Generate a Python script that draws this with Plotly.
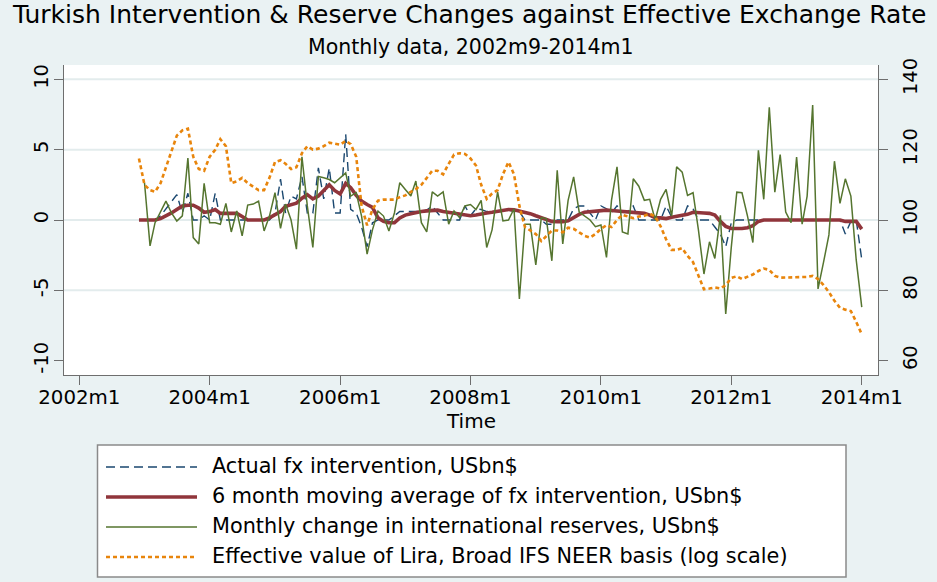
import pandas as pd
import plotly.graph_objects as go

# ---------------- data ----------------
start_main = "2002-12-01"   # first month of intervention / NEER series
start_res = "2003-01-01"    # first month of reserve-change series
end_month = "2014-01-01"

actual_fx = [0, 0, 0, 0, 0.3, 0.8, 1.3, 1.8, 0.5, 1.9,      # 2002m12..2003m9
             0, 0, 0.3, 0, 1.9, 0, 0, 0, 0, 0,               # ..2004m7
             0, 0, 0, 0, 0, 0.5, 2.9, 0.5, 1.7, 1.5,          # ..2005m5
             3.1, 0.5, 0.5, 3.7, 1.5, 3.7, 0.5, 0.5, 6.1, 0.75,  # ..2006m3
             0.5, -0.5, -1.9, -0.2, 0, 0, 0, 0.3, 0.6, 0.6,   # ..2007m1
             0.6, 0.6, 0.6, 0.7, 1.0, 0.5, 0, 0, 0, 0,        # ..2007m11
             1.0, 0.3, 0.8, 0.75, 0.6, 0.6, 0.6, 0.6, 0.7, 0.6,  # ..2008m9
             0.6, 0, 0, 0, 0, -0.3, -0.3, 0, 0, 0,            # ..2009m7
             0.8, 1.0, 1.0, 0.5, 0, 1.0, 0.8, 0.5, 1.0, 0.6,  # ..2010m5
             0.6, 1.0, 0, 0, 0, 0, 0, 1.0, 0.2, 0,            # ..2011m3
             0, 1.0, 0.8, 0, 0, 0, -0.5, -1.0, -1.9, -0.2,    # ..2012m1
             0, 0, 0, 0, 0, 0, 0, 0, 0, 0,                    # ..2012m11
             0, 0, 0, 0, 0, 0, 0, 0, 0, 0,                    # ..2013m9
             -1.0, -0.1, 0, -2.8]                             # ..2014m1

ma6_fx = [0, 0, 0, 0, 0.1, 0.28, 0.5, 0.75, 1.0, 1.05,
          1.05, 0.85, 0.55, 0.6, 0.75, 0.47, 0.47, 0.47, 0.47, 0.25,
          0, 0, 0, 0, 0.15, 0.35, 0.6, 0.97, 1.1, 1.2,
          1.55, 1.8, 1.5, 1.7, 2.1, 2.5, 2.1, 1.85, 2.6, 2.3,
          1.75, 1.35, 1.1, 0.9, 0.15, -0.1, -0.2, -0.2, 0.15, 0.35,
          0.45, 0.55, 0.6, 0.65, 0.68, 0.7, 0.6, 0.55, 0.47, 0.42,
          0.38, 0.3, 0.35, 0.45, 0.5, 0.55, 0.62, 0.7, 0.75, 0.72,
          0.64, 0.55, 0.45, 0.3, 0.15, 0.0, -0.1, -0.12, -0.12, -0.05,
          0.2, 0.4, 0.55, 0.6, 0.64, 0.68, 0.7, 0.67, 0.64, 0.64,
          0.6, 0.55, 0.5, 0.47, 0.35, 0.17, 0.15, 0.1, 0.2, 0.26,
          0.28, 0.4, 0.55, 0.55, 0.5, 0.47, 0.35, -0.1, -0.45, -0.6,
          -0.62, -0.6, -0.55, -0.4, -0.1, 0, 0, 0, 0, 0,
          0, 0, 0, 0, 0, 0, 0, 0, 0, 0,
          -0.1, -0.1, -0.1, -0.65]

reserve_change = [2.65, -1.84, -0.19, 0.64, 1.34, 0.5, -0.07, 0.3, 4.4, -1.25,   # 2003m1..m10
                  -1.7, 2.6, -0.19, -0.19, -0.3, 1.18, -0.85, 0.64, -1.13, 1.06,
                  1.13, 1.34, -0.78, 0.28, 1.94, -0.59, 1.13, 0, -2.07, 4.5,
                  1.0, -1.95, 3.1, 3.0, 2.88, 2.65, 3.0, 3.35, 1.7, 1.94,
                  0.28, -2.43, -0.7, 0.64, 0.28, -0.78, 0.5, 2.65, 2.17, 1.7,
                  2.77, -0.19, -0.85, 2.0, 1.7, 2.0, -0.3, 0.64, 0.17, 1.0,
                  1.1, 0.75, 1.4, -1.95, -0.7, 2.0, -0.07, 0, 0.8, -5.61,
                  -0.3, -0.3, -3.2, 0.17, 0.1, -2.9, 3.54, -1.7, 1.4, 3.07,
                  0.57, 0.28, 0, -0.47, -0.35, -2.66, 1.4, 3.78, -0.85, -1.0,
                  2.93, 2.4, 1.4, 1.47, 0, 1.47, 2.17, 0.28, 3.78, 3.4,
                  1.75, 1.94, -0.7, -3.84, -1.55, -2.73, 0.33, -6.68, -1.95, 1.98,
                  1.94, 0.28, -1.6, 4.95, 1.47, 8.02, 1.98, 4.65, 0.57, -0.19,
                  4.48, -0.3, 1.7, 8.18, -4.9, -3.0, -1.06, 4.18, 1.18, 2.93,
                  1.7, -2.84, -6.2]

neer_lira = [117.5, 110, 108.5, 108, 110.5, 115, 120, 124, 125.5, 126,
             118, 114.5, 114, 118, 120, 123, 121, 110.5, 111, 112,
             110.5, 109.5, 108.5, 108.5, 112, 116.5, 117, 116, 114.5, 115,
             119, 121, 120, 120.3, 121, 122, 121.6, 121.4, 122.5, 121.6,
             118, 104, 98.5, 103, 105.5, 105.8, 105.8, 105.8, 106.5, 107,
             108, 108.8, 110, 112, 114, 114, 113, 116, 118.6, 119,
             118.8, 117.5, 115.5, 110, 106, 107.5, 108.5, 113, 116.5, 113,
             104, 98, 97, 96, 94, 95.5, 97, 97, 96.5, 97.8,
             97.5, 96.5, 95.5, 95, 96, 97.5, 98.5, 98, 100, 101.5,
             101, 100.5, 101, 101.2, 101.8, 101, 98.2, 94.5, 91.5, 91.5,
             92, 89.8, 88, 84, 80.3, 80.5, 80.8, 80.5, 81.5, 83.5,
             84, 83.2, 83.8, 84.5, 85.5, 86.2, 85.8, 84.1, 83.6, 83.6,
             83.6, 83.6, 83.6, 83.8, 84.1, 83.2, 81.5, 79.5, 77, 75,
             74.5, 74.1, 71, 67.5]

x_tick_vals = ["2002-01-01", "2004-01-01", "2006-01-01", "2008-01-01",
               "2010-01-01", "2012-01-01", "2014-01-01"]
x_tick_text = ["2002m1", "2004m1", "2006m1", "2008m1", "2010m1", "2012m1", "2014m1"]
left_ticks = [-10, -5, 0, 5, 10]
left_tick_text = ["-10", "-5", "0", "5", "10"]
right_ticks = [60, 80, 100, 120, 140]

series_names = ["Actual fx intervention, USbn$",
                "6 month moving average of fx intervention, USbn$",
                "Monthly change in international reserves, USbn$",
                "Effective value of Lira, Broad IFS NEER basis (log scale)"]

title_text = "Turkish Intervention & Reserve Changes against Effective Exchange Rate"
subtitle_text = "Monthly data, 2002m9-2014m1"

# ---------------- styling ----------------
FONT = "DejaVu Sans"
C_BLUE = "#1A476F"
C_RED = "#90353B"
C_GREEN = "#55752F"
C_ORANGE = "#E8850C"
BG = "#EAF2F3"
GRID = "#E3ECED"
AXIS = "#6E6E6E"

dates_main = pd.date_range(start_main, end_month, freq="MS")
dates_res = pd.date_range(start_res, end_month, freq="MS")

styles = [
    dict(color=C_BLUE, width=1.4, dash="9px,5px"),
    dict(color=C_RED, width=3.6, dash="solid"),
    dict(color=C_GREEN, width=1.5, dash="solid"),
    dict(color=C_ORANGE, width=2.6, dash="4px,3px"),
]

fig = go.Figure()
fig.add_trace(go.Scatter(x=dates_main, y=actual_fx, mode="lines", name=series_names[0],
                         line=styles[0], yaxis="y"))
fig.add_trace(go.Scatter(x=dates_main, y=ma6_fx, mode="lines", name=series_names[1],
                         line=styles[1], yaxis="y"))
fig.add_trace(go.Scatter(x=dates_res, y=reserve_change, mode="lines", name=series_names[2],
                         line=styles[2], yaxis="y"))
fig.add_trace(go.Scatter(x=dates_main, y=neer_lira, mode="lines", name=series_names[3],
                         line=styles[3], yaxis="y2"))

# plot-area geometry in pixels
L, R, T, B = 64, 59, 65, 207
W, H = 937, 582
PW, PH = W - L - R, H - T - B


def fx(px):
    return (px - L) / PW


def fy(py):
    return (H - B - py) / PH


shapes = []
# horizontal grid lines (Stata style: not at the bottom tick)
for v in [10, 5, 0, -5]:
    shapes.append(dict(type="line", xref="paper", yref="y", x0=0, x1=1, y0=v, y1=v,
                       line=dict(color=GRID, width=2), layer="below"))

# custom legend box
shapes.append(dict(type="rect", xref="paper", yref="paper",
                   x0=fx(97.5), x1=fx(846), y0=fy(577), y1=fy(445),
                   fillcolor="white", line=dict(color="#8A8A8A", width=1.5), layer="above"))
entry_y = [466, 496, 526, 556]
annotations = []
for i, (nm, st) in enumerate(zip(series_names, styles)):
    shapes.append(dict(type="line", xref="paper", yref="paper",
                       x0=fx(106), x1=fx(197), y0=fy(entry_y[i] + 1), y1=fy(entry_y[i] + 1),
                       line=dict(color=st["color"], width=st["width"], dash=st["dash"]),
                       layer="above"))
    annotations.append(dict(text=nm, xref="paper", yref="paper", x=fx(210), y=fy(entry_y[i]),
                            xanchor="left", yanchor="middle", showarrow=False,
                            font=dict(family=FONT, size=20.8, color="black")))

annotations += [
    dict(text=title_text, xref="paper", yref="paper", x=fx(468.5), y=fy(15),
         xanchor="center", yanchor="middle", showarrow=False,
         font=dict(family=FONT, size=25, color="black")),
    dict(text=subtitle_text, xref="paper", yref="paper", x=fx(470.5), y=fy(47),
         xanchor="center", yanchor="middle", showarrow=False,
         font=dict(family=FONT, size=20.5, color="black")),
    dict(text="Time", xref="paper", yref="paper", x=fx(471), y=fy(421),
         xanchor="center", yanchor="middle", showarrow=False,
         font=dict(family=FONT, size=20, color="black")),
]

fig.update_layout(
    width=W, height=H,
    margin=dict(l=L, r=R, t=T, b=B, pad=0),
    paper_bgcolor=BG, plot_bgcolor="white",
    showlegend=False,
    font=dict(family=FONT, size=20, color="black"),
    xaxis=dict(type="date", range=["2001-10-07", "2014-04-02"],
               tickmode="array", tickvals=x_tick_vals, ticktext=x_tick_text,
               showgrid=False, zeroline=False,
               showline=True, linecolor=AXIS, linewidth=1.2,
               ticks="outside", ticklen=9, tickcolor=AXIS, tickwidth=1.2,
               ticklabelstandoff=-5,
               tickfont=dict(family=FONT, size=19.8, color="black")),
    yaxis=dict(range=[-11.02, 11.02], tickmode="array", tickvals=left_ticks,
               ticktext=left_tick_text,
               showgrid=False, zeroline=False,
               showline=True, linecolor=AXIS, linewidth=1.2,
               ticks="outside", ticklen=9, tickcolor=AXIS, tickwidth=1.2,
               ticklabelstandoff=-2,
               tickangle=-90, tickfont=dict(family=FONT, size=19.5, color="black")),
    yaxis2=dict(range=[55.9, 144.1], overlaying="y", side="right",
                tickmode="array", tickvals=right_ticks,
                showgrid=False, zeroline=False,
                showline=True, linecolor=AXIS, linewidth=1.2,
                ticks="outside", ticklen=9, tickcolor=AXIS, tickwidth=1.2,
                ticklabelstandoff=5,
                tickangle=-90, tickfont=dict(family=FONT, size=19.5, color="black")),
    shapes=shapes,
    annotations=annotations,
)

fig.write_html("out.html", config={"displayModeBar": False},
               post_script="document.body.style.margin='0px';document.body.style.padding='0px';")
